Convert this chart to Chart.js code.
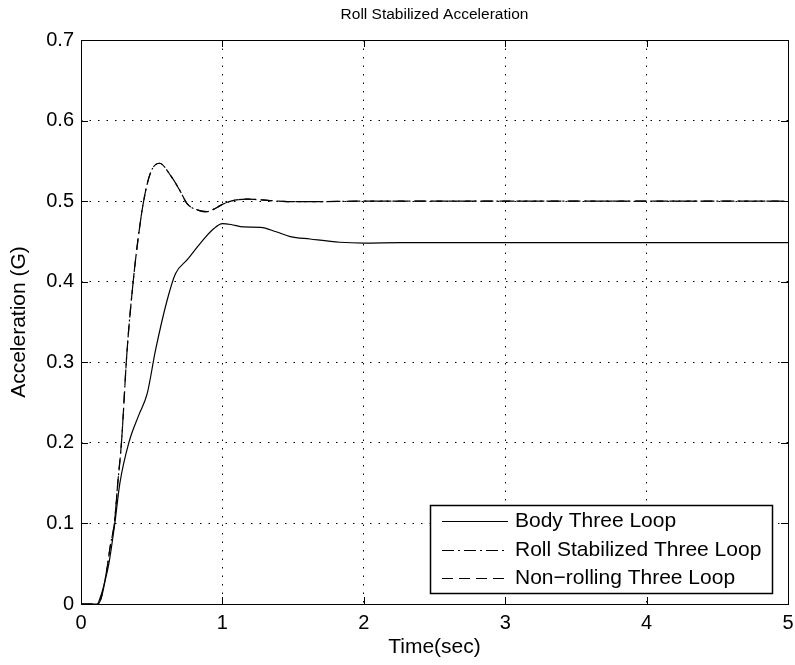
<!DOCTYPE html>
<html>
<head>
<meta charset="utf-8">
<script src="https://cdn.jsdelivr.net/npm/chart.js@4.4.1/dist/chart.umd.min.js"></script>
<style>
    html, body { margin: 0; padding: 0; background: #fff; }
    #wrap { width: 795px; height: 665px; position: relative; }
</style>
</head>
<body>
<div id="wrap"><canvas id="chart"></canvas></div>
<script>
// values
const bodyTime = [0, 0.115, 0.138, 0.166, 0.197, 0.239, 0.275, 0.338, 0.41, 0.468, 0.527, 0.609, 0.668, 0.75, 0.845, 0.94, 1.0, 1.06, 1.15, 1.27, 1.38, 1.48, 1.62, 1.83, 2.0, 2.26, 3.0, 4.0, 5.0];
const bodyAccel = [0, 0, 0.009, 0.026, 0.05, 0.1, 0.15, 0.2, 0.235, 0.261, 0.315, 0.377, 0.41, 0.427, 0.448, 0.466, 0.472, 0.471, 0.468, 0.4675, 0.462, 0.456, 0.453, 0.449, 0.448, 0.4485, 0.4485, 0.4485, 0.4485];

const rollTime = [0, 0.12, 0.15, 0.18, 0.21, 0.236, 0.26, 0.286, 0.326, 0.369, 0.405, 0.444, 0.491, 0.555, 0.633, 0.703, 0.75, 0.845, 0.89, 0.95, 1.0, 1.06, 1.17, 1.32, 1.46, 1.7, 2.0, 3.0, 4.0, 5.0];
const rollAccel = [0, 0, 0.012, 0.04, 0.075, 0.1, 0.15, 0.2, 0.315, 0.4, 0.455, 0.501, 0.535, 0.547, 0.532, 0.512, 0.497, 0.488, 0.487, 0.491, 0.496, 0.5, 0.5025, 0.501, 0.4995, 0.4995, 0.5, 0.5, 0.5, 0.5];

// non-rolling response sits on top of the roll stabilized one
const nonRollTime = rollTime;
const nonRollAccel = rollAccel;

const seriesNames = ["Body Three Loop", "Roll Stabilized Three Loop", "Non\u2212rolling Three Loop"];
const xTicks = [0, 1, 2, 3, 4, 5];
const yTicks = [0, 0.1, 0.2, 0.3, 0.4, 0.5, 0.6, 0.7];

const FONT = "'Liberation Sans', Arial, Helvetica, sans-serif";

function toPoints(xs, ys) {
    return xs.map((x, i) => ({ x: x, y: ys[i] }));
}

// box round the plot with inward tick marks, like the original figure
const framePlugin = {
    id: "frame",
    afterDatasetsDraw(chart) {
        const { ctx, chartArea: a, scales } = chart;
        ctx.save();
        ctx.strokeStyle = "#000";
        ctx.lineWidth = 1;
        ctx.setLineDash([]);
        const len = 7;
        xTicks.forEach((v) => {
            const px = Math.round(scales.x.getPixelForValue(v)) + 0.5;
            ctx.beginPath();
            ctx.moveTo(px, a.bottom);
            ctx.lineTo(px, a.bottom - len);
            ctx.moveTo(px, a.top);
            ctx.lineTo(px, a.top + len);
            ctx.stroke();
        });
        yTicks.forEach((v) => {
            const py = Math.round(scales.y.getPixelForValue(v)) + 0.5;
            ctx.beginPath();
            ctx.moveTo(a.left, py);
            ctx.lineTo(a.left + len, py);
            ctx.moveTo(a.right, py);
            ctx.lineTo(a.right - len, py);
            ctx.stroke();
        });
        ctx.strokeRect(Math.round(a.left) + 0.5, Math.round(a.top) + 0.5,
            Math.round(a.right - a.left), Math.round(a.bottom - a.top));
        ctx.restore();
    },
};

// legend box in the lower right corner of the plot
const legendPlugin = {
    id: "boxLegend",
    afterDraw(chart) {
        const { ctx, chartArea: a } = chart;
        const order = [0, 2, 1];
        const w = 342, h = 88;
        const right = a.right - 16, bottom = a.bottom - 11;
        const left = right - w, top = bottom - h;
        ctx.save();
        ctx.fillStyle = "#fff";
        ctx.fillRect(left, top, w, h);
        ctx.strokeStyle = "#000";
        ctx.lineWidth = 1.5;
        ctx.setLineDash([]);
        ctx.strokeRect(left + 0.5, top + 0.5, w, h);
        ctx.font = "21px " + FONT;
        ctx.textBaseline = "middle";
        ctx.fillStyle = "#000";
        order.forEach((di, row) => {
            const ds = chart.data.datasets[di];
            const y = Math.round(top + 16 + row * 28.5) + 0.5;
            ctx.beginPath();
            ctx.lineWidth = 1;
            ctx.strokeStyle = "#000";
            ctx.setLineDash(ds.borderDash || []);
            ctx.moveTo(left + 12, y);
            ctx.lineTo(left + 78, y);
            ctx.stroke();
            ctx.setLineDash([]);
            ctx.fillText(ds.label, left + 85, y);
        });
        ctx.restore();
    },
};

// keep the plot box at a fixed width, no extra room for edge labels
function noSidePadding(scale) {
    scale.paddingLeft = 0;
    scale.paddingRight = 0;
}

const ctx = document.getElementById("chart").getContext("2d");

new Chart(ctx, {
    type: "line",
    data: {
        datasets: [
            {
                label: seriesNames[0],
                data: toPoints(bodyTime, bodyAccel),
                borderColor: "#000",
                borderWidth: 1.2,
                pointRadius: 0,
                cubicInterpolationMode: "monotone",
                fill: false,
            },
            {
                label: seriesNames[2],
                data: toPoints(nonRollTime, nonRollAccel),
                borderColor: "#000",
                borderWidth: 1.2,
                borderDash: [11, 6],
                pointRadius: 0,
                cubicInterpolationMode: "monotone",
                fill: false,
            },
            {
                label: seriesNames[1],
                data: toPoints(rollTime, rollAccel),
                borderColor: "#000",
                borderWidth: 1.2,
                borderDash: [12, 4, 2, 4],
                pointRadius: 0,
                cubicInterpolationMode: "monotone",
                fill: false,
            },
        ],
    },
    options: {
        responsive: true,
        maintainAspectRatio: false,
        animation: false,
        layout: {
            padding: { left: 0, right: 7, top: 0, bottom: 0 },
        },
        plugins: {
            legend: { display: false },
            tooltip: { enabled: false },
        },
        scales: {
            x: {
                type: "linear",
                min: 0,
                max: 5,
                afterBuildTicks: (scale) => {
                    scale.ticks = xTicks.map((v) => ({ value: v }));
                },
                afterFit: (scale) => {
                    scale.height = 61;
                    noSidePadding(scale);
                },
                ticks: {
                    color: "#000",
                    padding: 7,
                    font: { family: FONT, size: 20 },
                    maxRotation: 0,
                },
                grid: {
                    color: "#000",
                    lineWidth: 1,
                    drawTicks: false,
                },
                border: { display: false, dash: [1.5, 7] },
                title: {
                    display: true,
                    text: "Time(sec)",
                    color: "#000",
                    font: { family: FONT, size: 21 },
                    padding: { top: 0, bottom: 5 },
                },
            },
            x2: {
                type: "linear",
                position: "top",
                min: 0,
                max: 5,
                afterFit: (scale) => {
                    scale.height = 40;
                    noSidePadding(scale);
                },
                ticks: { display: false },
                grid: { display: false },
                border: { display: false },
                title: {
                    display: true,
                    text: "Roll Stabilized Acceleration",
                    color: "#000",
                    font: { family: FONT, size: 15.5 },
                    padding: { top: 5, bottom: 0 },
                },
            },
            y: {
                type: "linear",
                min: 0,
                max: 0.7,
                afterBuildTicks: (scale) => {
                    scale.ticks = yTicks.map((v) => ({ value: v }));
                },
                afterFit: (scale) => {
                    scale.width = 81;
                },
                ticks: {
                    color: "#000",
                    padding: 7,
                    font: { family: FONT, size: 20 },
                    callback: (v) => (v === 0 ? "0" : v.toFixed(1)),
                },
                grid: {
                    color: "#000",
                    lineWidth: 1,
                    drawTicks: false,
                },
                border: { display: false, dash: [1.5, 7] },
                title: {
                    display: true,
                    text: "Acceleration (G)",
                    color: "#000",
                    font: { family: FONT, size: 21 },
                    padding: { top: 7, bottom: 0 },
                },
            },
        },
    },
    plugins: [framePlugin, legendPlugin],
});
</script>
</body>
</html>
